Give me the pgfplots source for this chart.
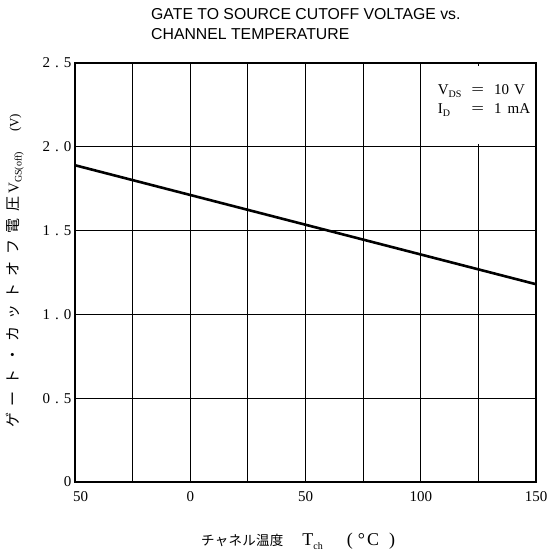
\documentclass[border=0pt]{standalone}
\usepackage{pgfplots}
\pgfplotsset{compat=1.18}
\usepackage{fontspec}
\setmainfont{Liberation Serif}
\newfontfamily\helv{Liberation Sans}
\newfontfamily\jpy[LetterSpace=44]{Noto Sans CJK JP}
\newfontfamily\jpx[LetterSpace=2]{Noto Sans CJK JP}
\begin{document}
\begin{tikzpicture}
\useasboundingbox (-75pt,-69pt) rectangle (472pt,482pt);
\begin{axis}[
  at={(0,0)}, anchor=south west,
  scale only axis,
  width=461pt, height=419pt,
  xmin=-50, xmax=150, ymin=0, ymax=2.5,
  xtick={-50,-25,...,150},
  xticklabels={\phantom{$-$}50,,0,,50,,100,,150},
  ytick={0,0.5,...,2.5},
  yticklabels={0,
    0\hspace{5pt}.\hspace{5pt}5,
    1\hspace{5pt}.\hspace{5pt}0,
    1\hspace{5pt}.\hspace{5pt}5,
    2\hspace{5pt}.\hspace{5pt}0,
    2\hspace{5pt}.\hspace{5pt}5},
  grid=major,
  grid style={black, line width=1.2pt},
  axis line style={black, line width=1.7pt},
  tick style={draw=none},
  ticklabel style={font=\fontsize{15}{16}\selectfont},
  xticklabel style={yshift=-6pt},
  /pgf/number format/assume math mode=true,
  xlabel={{\fontsize{13.5}{14}\selectfont\jpx チャネル温度}\hspace{19pt}%
    {\fontsize{18}{18}\selectfont T\raisebox{-4pt}{\fontsize{10}{10}\selectfont ch}%
    \hspace{24pt}(\hspace{5pt}°\hspace{2pt}C\hspace{10pt})}},
  xlabel style={at={(axis description cs:0.484,-0.152)}, anchor=base, inner sep=0pt},
  ylabel={{\fontsize{15}{15}\selectfont\jpy ゲート・カットオフ電圧}\hspace{3pt}%
    {\fontsize{15}{15}\selectfont V\raisebox{-3pt}{\fontsize{10}{10}\selectfont GS(off)}}%
    \hspace{20pt}{\fontsize{13}{13}\selectfont (V)}},
  ylabel style={at={(axis description cs:-0.130,0.129)}, anchor=west, inner sep=0pt},
  clip=false,
]
\addplot[black, line width=2.6pt] coordinates {(-50,1.89) (150,1.18)};
\fill[white] (axis cs:123.5,2.015) rectangle (axis cs:126.5,2.485);
\node[anchor=north west, align=left, inner sep=0pt, font=\fontsize{15}{18.5}\selectfont] at (axis cs:107.3,2.372)
  {V\raisebox{-3pt}{\fontsize{10}{10}\selectfont DS}\hspace{10pt}\scalebox{1.5}[1]{=}\hspace{10pt}10\hspace{5pt}V\\
   I\raisebox{-3pt}{\fontsize{10}{10}\selectfont D}\hspace{21.4pt}\scalebox{1.5}[1]{=}\hspace{10pt}1\hspace{6pt}mA};
\end{axis}
\node[anchor=base west, inner sep=0pt, font=\helv\fontsize{15.8}{19}\selectfont] at (76pt,462pt)
  {GATE TO SOURCE CUTOFF VOLTAGE vs.};
\node[anchor=base west, inner sep=0pt, font=\helv\fontsize{15.8}{19}\selectfont] at (76pt,442pt)
  {CHANNEL TEMPERATURE};
\end{tikzpicture}
\end{document}
